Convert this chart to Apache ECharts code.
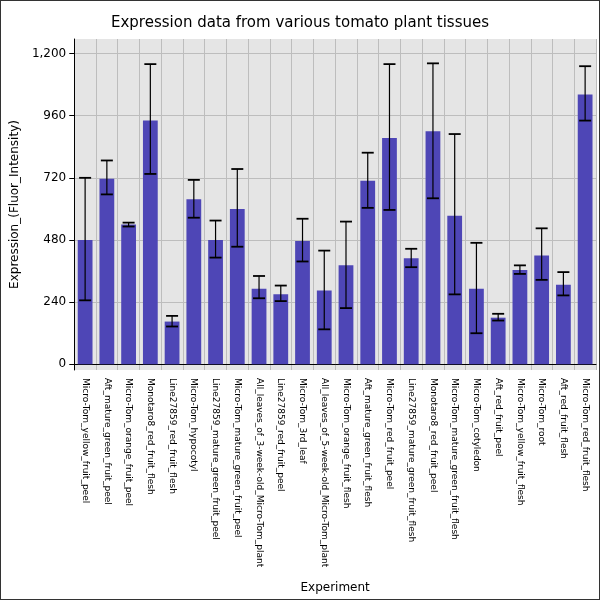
<!DOCTYPE html>
<html><head><meta charset="utf-8">
<script src="https://cdn.jsdelivr.net/npm/echarts@6/dist/echarts.min.js"></script>
<style>html,body{margin:0;padding:0;background:#fff}#main{width:598px;height:598px;border:1px solid #333}</style>
</head><body><div id="main"></div>
<script>
var categories = ['Micro-Tom_yellow_fruit_peel','Aft_mature_green_fruit_peel','Micro-Tom_orange_fruit_peel','Monotaro8_red_fruit_flesh','Line27859_red_fruit_flesh','Micro-Tom_hypocotyl','Line27859_mature_green_fruit_peel','Micro-Tom_mature_green_fruit_peel','All_leaves_of_3-week-old_Micro-Tom_plant','Line27859_red_fruit_peel','Micro-Tom_3rd_leaf','All_leaves_of_5-week-old_Micro-Tom_plant','Micro-Tom_orange_fruit_flesh','Aft_mature_green_fruit_flesh','Micro-Tom_red_fruit_peel','Line27859_mature_green_fruit_flesh','Monotaro8_red_fruit_peel','Micro-Tom_mature_green_fruit_flesh','Micro-Tom_cotyledon','Aft_red_fruit_peel','Micro-Tom_yellow_fruit_flesh','Micro-Tom_root','Aft_red_fruit_flesh','Micro-Tom_red_fruit_flesh'];
var values = [480,716,540,941,165,637,480,600,292,270,476,285,382,709,874,409,900,574,292,180,364,420,307,1042];
var errHigh = [720,787,547,1159,187,712,555,754,341,304,562,439,551,817,1159,446,1162,889,469,195,382,525,356,1151];
var errLow = [247,656,532,735,146,566,412,454,255,244,397,135,217,604,596,375,641,270,120,169,349,326,266,941];
var yTicks = [0,240,480,720,960,1200];

var chart = echarts.init(document.getElementById('main'));
chart.setOption({
  animation: false,
  title: {text: 'Expression data from various tomato plant tissues', left: 'center', top: 10,
    textStyle: {fontFamily: 'DejaVu Sans', fontWeight: 'normal', fontSize: 15, color: '#000'}},
  grid: {left: 66, right: 3, top: 38, bottom: 226, backgroundColor: '#e5e5e5', show: true, borderWidth: 0},
  xAxis: {type: 'category', data: categories, name: 'Experiment', nameLocation: 'middle', nameGap: 212,
    nameTextStyle: {fontFamily: 'DejaVu Sans', fontSize: 12, color: '#000'},
    axisLine: {lineStyle: {color: '#000'}}, axisTick: {alignWithLabel: true, lineStyle: {color: '#000'}},
    splitLine: {show: true, lineStyle: {color: '#bdbdbd'}},
    axisLabel: {rotate: -90, interval: 0, fontFamily: 'DejaVu Sans', fontSize: 9, color: '#000'}},
  yAxis: {type: 'value', min: -22, max: 1256, name: 'Expression_(Fluor_Intensity)', nameLocation: 'middle', nameGap: 48,
    nameTextStyle: {fontFamily: 'DejaVu Sans', fontSize: 12, color: '#000'},
    axisLine: {show: true, lineStyle: {color: '#000'}},
    axisTick: {show: true, customValues: yTicks, lineStyle: {color: '#000'}},
    axisLabel: {customValues: yTicks, fontFamily: 'DejaVu Sans', fontSize: 12, color: '#000'},
    splitLine: {show: true, lineStyle: {color: '#bdbdbd'}}},
  series: [
    {type: 'bar', data: values, barWidth: '68%', itemStyle: {color: '#4e46b6'}},
    {type: 'custom', z: 10, data: categories.map(function (c, i) { return [i, errLow[i], errHigh[i]]; }),
      renderItem: function (params, api) {
        var lo = api.coord([api.value(0), api.value(1)]);
        var hi = api.coord([api.value(0), api.value(2)]);
        var w = 6;
        var st = {stroke: '#000', lineWidth: 1.2};
        return {type: 'group', children: [
          {type: 'line', shape: {x1: hi[0], y1: hi[1], x2: lo[0], y2: lo[1]}, style: st},
          {type: 'line', shape: {x1: hi[0]-w, y1: hi[1], x2: hi[0]+w, y2: hi[1]}, style: {stroke: '#000', lineWidth: 1.8}},
          {type: 'line', shape: {x1: lo[0]-w, y1: lo[1], x2: lo[0]+w, y2: lo[1]}, style: {stroke: '#000', lineWidth: 1.8}}
        ]};
      }}
  ]
});
</script></body></html>
